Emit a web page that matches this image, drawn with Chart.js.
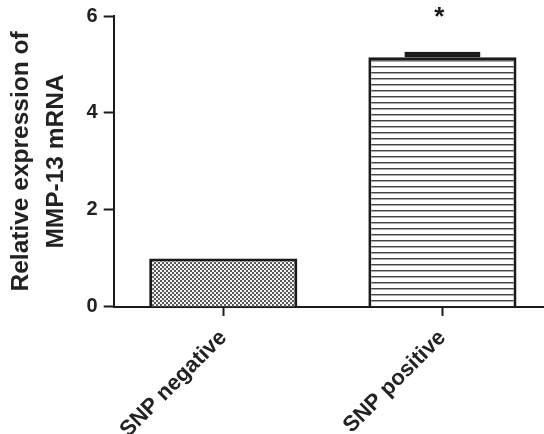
<!DOCTYPE html>
<html>
<head>
<meta charset="utf-8">
<script src="https://cdn.jsdelivr.net/npm/chart.js@4.4.1/dist/chart.umd.min.js"></script>
<style>
  html, body { margin: 0; padding: 0; background: #fff; overflow: hidden; }
  #wrap { width: 544px; height: 434px; overflow: hidden; }
</style>
</head>
<body>
<div id="wrap"><canvas id="chart" width="552" height="434"></canvas></div>
<script>
// values
var categories = ['SNP negative', 'SNP positive'];
var means = [1.0, 5.15];
var sem = [0.0, 0.11];
var marks = ['', '*'];
var yTicks = [0, 2, 4, 6];

var canvas = document.getElementById('chart');
var ctx = canvas.getContext('2d');

function makeTile(w, h, draw) {
    var t = document.createElement('canvas');
    t.width = w;
    t.height = h;
    draw(t.getContext('2d'));
    return ctx.createPattern(t, 'repeat');
}

// fine dotted fill for the first bar
var dots = makeTile(4, 4, function (c) {
    c.fillStyle = '#f2f2f2';
    c.fillRect(0, 0, 4, 4);
    c.fillStyle = '#5a5a5a';
    c.fillRect(0, 0, 2, 2);
    c.fillRect(2, 2, 2, 2);
});

// horizontal lines for the second bar
var lines = makeTile(4, 6, function (c) {
    c.fillStyle = '#fff';
    c.fillRect(0, 0, 4, 6);
    c.fillStyle = '#444';
    c.fillRect(0, 0, 4, 1);
    c.fillStyle = '#aaa';
    c.fillRect(0, 1, 4, 1);
});

var errorBars = {
    id: 'errorBars',
    afterDatasetsDraw: function (chart) {
        var c = chart.ctx;
        var y = chart.scales.y;
        var meta = chart.getDatasetMeta(0);
        c.save();
        meta.data.forEach(function (bar, i) {
            var top = y.getPixelForValue(means[i]);
            var errTop = y.getPixelForValue(means[i] + sem[i]);
            var capW = bar.width * 0.51;
            if (sem[i] > 0) {
                c.fillStyle = '#1a1a1a';
                c.fillRect(bar.x - capW / 2, errTop, capW, top - errTop);
            }
            if (marks[i]) {
                c.fillStyle = '#1a1a1a';
                c.font = 'bold 26px "Liberation Sans", Arial, sans-serif';
                c.textAlign = 'center';
                c.textBaseline = 'alphabetic';
                c.fillText(marks[i], bar.x - 3, errTop - 27);
            }
        });
        c.restore();
    }
};

var tickFont = { family: '"Liberation Sans", Arial, sans-serif', size: 20, weight: 'bold', lineHeight: 1.0 };

new Chart(ctx, {
    type: 'bar',
    data: {
        labels: categories,
        datasets: [{
            data: means,
            backgroundColor: [dots, lines],
            borderColor: '#1a1a1a',
            borderWidth: 3,
            barPercentage: 0.676,
            categoryPercentage: 1.0
        }]
    },
    options: {
        responsive: false,
        animation: false,
        layout: { padding: { top: 2, left: 4, right: 0, bottom: -18 } },
        plugins: {
            legend: { display: false },
            tooltip: { enabled: false }
        },
        scales: {
            x: {
                grid: {
                    offset: false,
                    drawOnChartArea: false,
                    drawTicks: true,
                    tickLength: 9,
                    tickWidth: 2,
                    tickColor: '#1a1a1a'
                },
                border: { color: '#1a1a1a', width: 2 },
                ticks: {
                    color: '#222',
                    font: { family: '"Liberation Sans", Arial, sans-serif', size: 22, weight: 'bold' },
                    minRotation: 45,
                    maxRotation: 45,
                    padding: 9
                }
            },
            y: {
                min: 0,
                max: 6,
                afterBuildTicks: function (axis) {
                    axis.ticks = yTicks.map(function (v) { return { value: v }; });
                },
                grid: {
                    drawOnChartArea: false,
                    drawTicks: true,
                    tickLength: 10,
                    tickWidth: 2,
                    tickColor: '#1a1a1a'
                },
                border: { color: '#1a1a1a', width: 2 },
                ticks: {
                    color: '#222',
                    font: tickFont,
                    padding: 6
                },
                title: {
                    display: true,
                    text: ['Relative expression of', 'MMP-13 mRNA'],
                    color: '#222',
                    font: { family: '"Liberation Sans", Arial, sans-serif', size: 24.5, weight: 'bold', lineHeight: 1.42 },
                    padding: { top: 0, bottom: 7 }
                }
            }
        }
    },
    plugins: [errorBars]
});
</script>
</body>
</html>
